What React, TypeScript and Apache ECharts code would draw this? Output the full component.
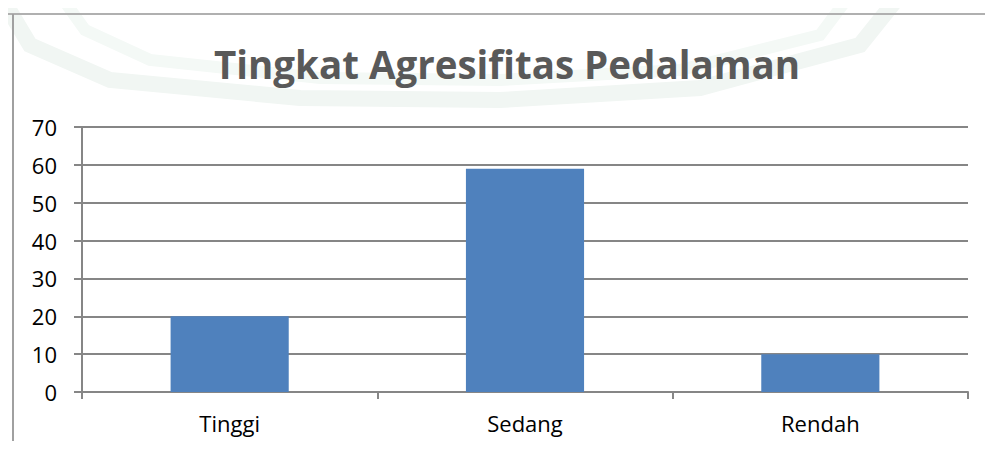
import React, { useEffect, useRef } from "react";
import * as echarts from "echarts";

const categories = ["Tinggi", "Sedang", "Rendah"];
const values = [20, 59, 10];
const title = "Tingkat Agresifitas Pedalaman";

export default function App() {
  const ref = useRef<HTMLDivElement>(null);
  useEffect(() => {
    const chart = echarts.init(ref.current!, null, { renderer: "svg" });
    chart.setOption({
      animation: false,
      backgroundColor: "#ffffff",
      title: {
        text: title,
        left: 209,
        top: 39,
        textStyle: {
          fontFamily: "Open Sans",
          fontWeight: "bold",
          fontSize: 38.5,
          color: "#595959",
        },
      },
      graphic: [
        {
          type: "polyline",
          silent: true,
          z: -10,
          shape: {
            points: [[0, -5], [30, 45], [110, 80], [300, 98], [500, 100], [700, 88], [860, 45], [900, -5]],
          },
          style: { stroke: "#f1f6f3", lineWidth: 16, fill: "none" },
        },
        {
          type: "polyline",
          silent: true,
          z: -10,
          shape: {
            points: [[60, -5], [85, 30], [150, 60], [320, 78], [500, 80], [680, 70], [820, 35], [850, -5]],
          },
          style: { stroke: "#f4f9f6", lineWidth: 12, fill: "none" },
        },
        {
          type: "line",
          silent: true,
          shape: { x1: 7, y1: 14, x2: 993, y2: 14 },
          style: { stroke: "#b0b0b0", lineWidth: 2 },
        },
        {
          type: "line",
          silent: true,
          shape: { x1: 13, y1: 14, x2: 13, y2: 449 },
          style: { stroke: "#a0a0a0", lineWidth: 2 },
        },
      ],
      grid: { left: 82, right: 25, top: 127, bottom: 57 },
      xAxis: {
        type: "category",
        data: categories,
        axisLine: { show: true, lineStyle: { color: "#868686", width: 2 } },
        axisTick: { show: true, length: 7, lineStyle: { color: "#868686", width: 2 } },
        axisLabel: {
          margin: 20,
          fontFamily: "Open Sans",
          fontSize: 22,
          color: "#000000",
        },
      },
      yAxis: {
        type: "value",
        min: 0,
        max: 70,
        interval: 10,
        axisLine: { show: true, lineStyle: { color: "#868686", width: 2 } },
        axisTick: { show: true, length: 8, lineStyle: { color: "#868686", width: 2 } },
        splitLine: { show: true, lineStyle: { color: "#868686", width: 2 } },
        axisLabel: {
          margin: 25,
          fontFamily: "Open Sans",
          fontSize: 22,
          color: "#000000",
        },
      },
      series: [
        {
          type: "bar",
          data: values,
          barWidth: "40%",
          itemStyle: { color: "#4f81bd" },
        },
      ],
    });
    return () => chart.dispose();
  }, []);
  return <div ref={ref} style={{ width: 993, height: 449, margin: -8 }} />;
}
